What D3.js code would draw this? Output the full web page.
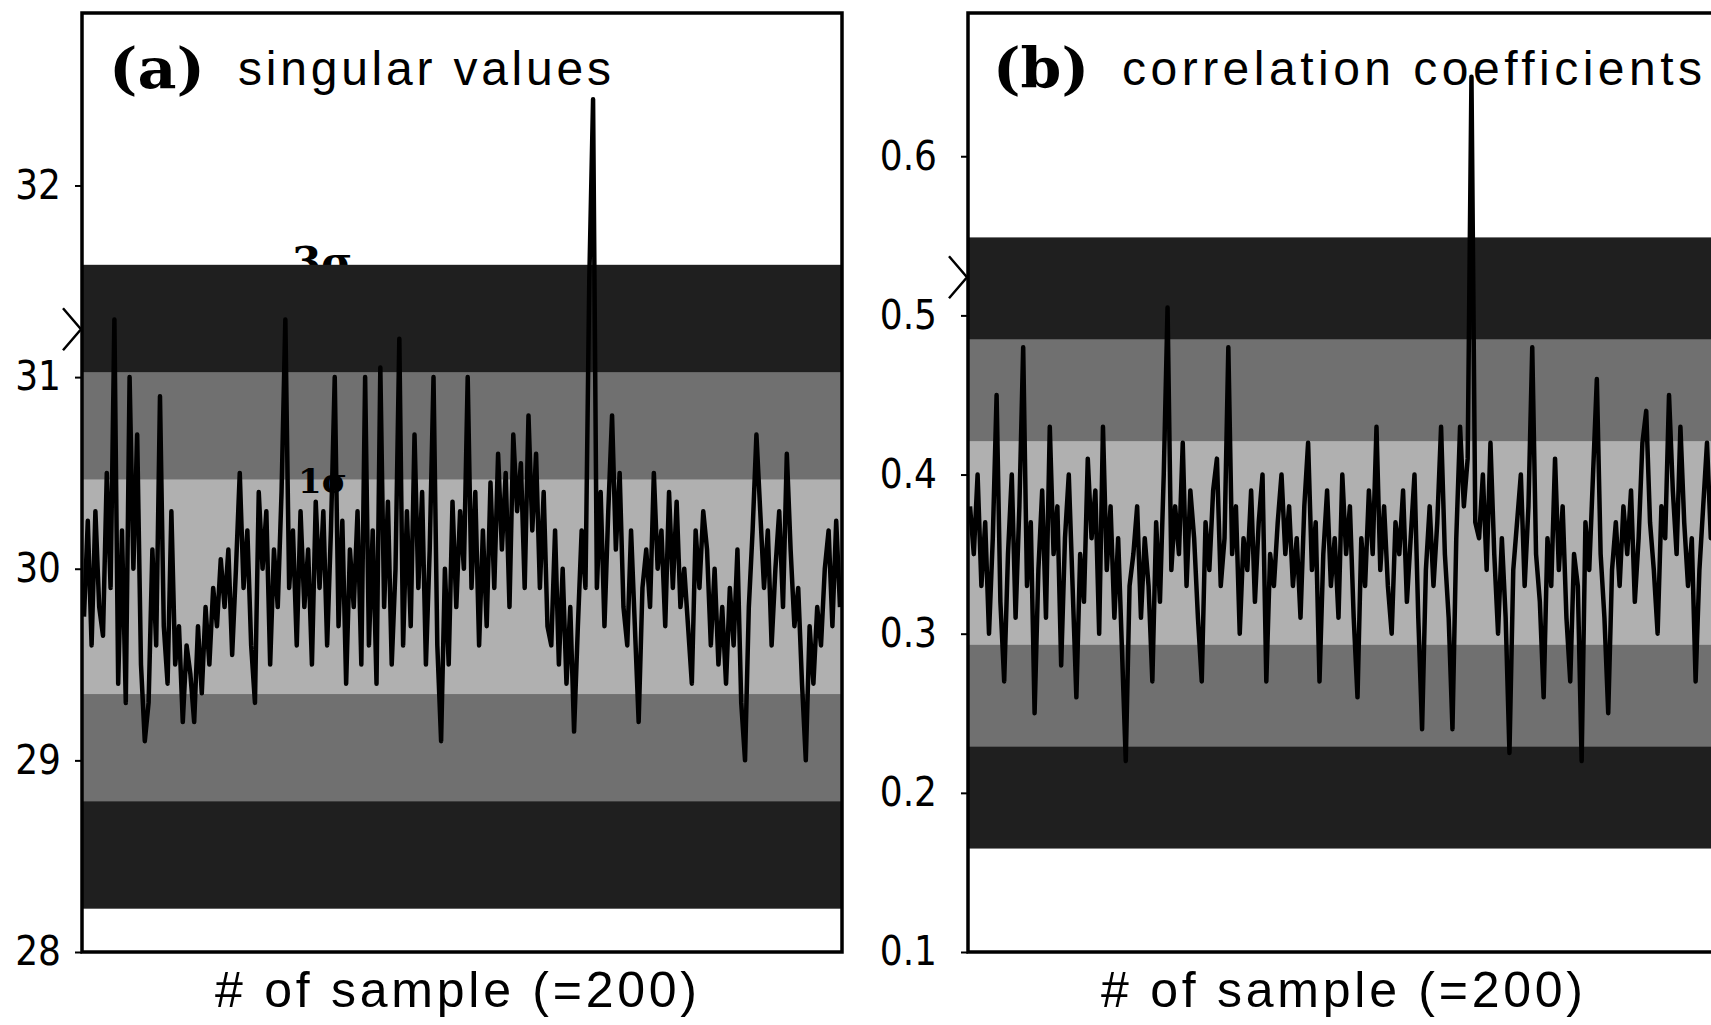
<!DOCTYPE html>
<html>
<head>
<meta charset="utf-8">
<script src="https://cdn.jsdelivr.net/npm/d3@7"></script>
<style>
  body { margin: 0; background: #fff; }
  svg { display: block; }
  .tick text { font-family: "Liberation Sans Narrow", "DejaVu Sans Condensed", "Liberation Sans", sans-serif; font-size: 40px; fill: #000; }
</style>
</head>
<body>
<svg id="chart"></svg>
<script>
// Singular values, 200 samples
const singularValues = [
    29.75, 30.25, 29.6, 30.3, 29.8, 29.65, 30.5, 29.9, 31.3, 29.4,
    30.2, 29.3, 31.0, 30.0, 30.7, 29.5, 29.1, 29.3, 30.1, 29.6,
    30.9, 29.7, 29.4, 30.3, 29.5, 29.7, 29.2, 29.6, 29.45, 29.2,
    29.7, 29.35, 29.8, 29.5, 29.9, 29.7, 30.05, 29.8, 30.1, 29.55,
    30.0, 30.5, 29.9, 30.2, 29.6, 29.3, 30.4, 30.0, 30.3, 29.5,
    30.1, 29.8, 30.4, 31.3, 29.9, 30.2, 29.6, 30.3, 29.8, 30.1,
    29.5, 30.35, 29.9, 30.3, 29.6, 30.2, 31.0, 29.7, 30.25, 29.4,
    30.1, 29.8, 30.3, 29.5, 31.0, 29.6, 30.2, 29.4, 31.05, 29.8,
    30.35, 29.5, 30.0, 31.2, 29.6, 30.3, 29.7, 30.7, 29.9, 30.4,
    29.5, 30.1, 31.0, 29.6, 29.1, 30.0, 29.5, 30.35, 29.8, 30.3,
    30.0, 31.0, 29.9, 30.4, 29.6, 30.2, 29.7, 30.45, 29.9, 30.6,
    30.1, 30.5, 29.8, 30.7, 30.3, 30.55, 29.9, 30.8, 30.2, 30.6,
    29.9, 30.4, 29.7, 29.6, 30.2, 29.5, 30.0, 29.4, 29.8, 29.15,
    29.7, 30.2, 29.9, 31.5, 32.45, 29.9, 30.4, 29.7, 30.3, 30.8,
    30.1, 30.5, 29.8, 29.6, 30.2, 29.7, 29.2, 29.9, 30.1, 29.8,
    30.5, 30.0, 30.2, 29.7, 30.4, 29.9, 30.35, 29.8, 30.0, 29.7,
    29.4, 30.2, 29.9, 30.3, 30.1, 29.6, 30.0, 29.5, 29.8, 29.4,
    29.9, 29.6, 30.1, 29.3, 29.0, 29.8, 30.2, 30.7, 30.3, 29.9,
    30.2, 29.6, 30.0, 30.3, 29.8, 30.6, 30.1, 29.7, 29.9, 29.4,
    29.0, 29.7, 29.4, 29.8, 29.6, 30.0, 30.2, 29.7, 30.25, 29.8
];

// Correlation coefficients, 200 samples
const correlationValues = [
    0.38, 0.35, 0.40, 0.33, 0.37, 0.30, 0.36, 0.45, 0.32, 0.27,
    0.35, 0.40, 0.31, 0.38, 0.48, 0.33, 0.37, 0.25, 0.34, 0.39,
    0.31, 0.43, 0.35, 0.38, 0.28, 0.36, 0.40, 0.33, 0.26, 0.35,
    0.32, 0.41, 0.36, 0.39, 0.30, 0.43, 0.34, 0.38, 0.31, 0.36,
    0.29, 0.22, 0.33, 0.35, 0.38, 0.31, 0.36, 0.33, 0.27, 0.37,
    0.32, 0.40, 0.505, 0.34, 0.38, 0.35, 0.42, 0.33, 0.39, 0.36,
    0.31, 0.27, 0.37, 0.34, 0.39, 0.41, 0.33, 0.36, 0.48, 0.35,
    0.38, 0.30, 0.36, 0.34, 0.39, 0.32, 0.37, 0.40, 0.27, 0.35,
    0.33, 0.37, 0.40, 0.35, 0.38, 0.33, 0.36, 0.31, 0.38, 0.42,
    0.34, 0.37, 0.27, 0.35, 0.39, 0.33, 0.36, 0.31, 0.40, 0.35,
    0.38, 0.31, 0.26, 0.36, 0.33, 0.39, 0.35, 0.43, 0.34, 0.38,
    0.33, 0.30, 0.37, 0.35, 0.39, 0.32, 0.36, 0.40, 0.31, 0.24,
    0.34, 0.38, 0.33, 0.37, 0.43, 0.35, 0.31, 0.24, 0.36, 0.43,
    0.38, 0.41, 0.65, 0.37, 0.36, 0.40, 0.34, 0.42, 0.35, 0.30,
    0.36, 0.31, 0.225, 0.34, 0.37, 0.40, 0.33, 0.38, 0.48, 0.35,
    0.32, 0.26, 0.36, 0.33, 0.41, 0.34, 0.38, 0.31, 0.27, 0.35,
    0.33, 0.22, 0.37, 0.34, 0.40, 0.46, 0.35, 0.31, 0.25, 0.34,
    0.37, 0.33, 0.38, 0.35, 0.39, 0.32, 0.36, 0.42, 0.44, 0.37,
    0.34, 0.30, 0.38, 0.36, 0.45, 0.39, 0.35, 0.43, 0.37, 0.33,
    0.36, 0.27, 0.34, 0.38, 0.42, 0.36, 0.40, 0.33, 0.38, 0.35
];

const singularTicks = [28, 29, 30, 31, 32];
const correlationTicks = [0.1, 0.2, 0.3, 0.4, 0.5, 0.6];

// mean and sigma of each distribution (bands at 1, 2, 3 sigma)
const singularMean = 29.906;
const singularSigma = 0.56;
const correlationMean = 0.357;
const correlationSigma = 0.064;

// reference value marked with a chevron on the left axis
const singularMarker = 31.25;
const correlationMarker = 0.524;

const bandSigmas = [3, 2, 1];
const bandFills = ['#1f1f1f', '#707070', '#b0b0b0'];

const W = 1711, H = 1025;
const svg = d3.select('#chart').attr('width', W).attr('height', H);
svg.append('rect').attr('width', W).attr('height', H).attr('fill', '#fff');

const PANEL = { width: 760, top: 13, bottom: 952 };

function drawPanel(cfg) {
    const x = d3.scaleLinear().domain([0, cfg.values.length - 1]).range([cfg.left + 2, cfg.left + PANEL.width - 2]);
    const y = d3.scaleLinear().domain(cfg.domain).range([PANEL.bottom, PANEL.top]);

    const g = svg.append('g');
    const clipId = 'clip-' + cfg.id;
    svg.append('clipPath').attr('id', clipId)
        .append('rect')
        .attr('x', cfg.left).attr('y', PANEL.top)
        .attr('width', PANEL.width).attr('height', PANEL.bottom - PANEL.top);

    // sigma label partly hidden under the outer band
    if (cfg.topLabel) {
        g.append('text')
            .attr('x', cfg.topLabel.x).attr('y', y(cfg.mean + 3 * cfg.sigma) + 12)
            .attr('font-family', '"DejaVu Serif", serif')
            .attr('font-weight', 'bold')
            .attr('font-size', 42)
            .text(cfg.topLabel.text);
    }

    // sigma bands
    g.append('g').attr('clip-path', `url(#${clipId})`)
        .selectAll('rect')
        .data(bandSigmas)
        .enter()
        .append('rect')
        .attr('x', cfg.left)
        .attr('width', PANEL.width)
        .attr('y', k => y(cfg.mean + k * cfg.sigma))
        .attr('height', k => y(cfg.mean - k * cfg.sigma) - y(cfg.mean + k * cfg.sigma))
        .attr('fill', (k, i) => bandFills[i]);

    // the series
    const line = d3.line().x((d, i) => x(i)).y(d => y(d));
    g.append('path')
        .datum(cfg.values)
        .attr('clip-path', `url(#${clipId})`)
        .attr('fill', 'none')
        .attr('stroke', '#000')
        .attr('stroke-width', 4.5)
        .attr('stroke-linejoin', 'round')
        .attr('d', line);

    if (cfg.innerLabel) {
        g.append('text')
            .attr('x', cfg.innerLabel.x).attr('y', y(cfg.mean + cfg.sigma) + 14)
            .attr('font-family', '"DejaVu Serif", serif')
            .attr('font-weight', 'bold')
            .attr('font-size', 34)
            .text(cfg.innerLabel.text);
    }

    // frame
    g.append('rect')
        .attr('x', cfg.left).attr('y', PANEL.top)
        .attr('width', PANEL.width).attr('height', PANEL.bottom - PANEL.top)
        .attr('fill', 'none').attr('stroke', '#000').attr('stroke-width', 3.5);

    // y axis
    const yAxis = d3.axisLeft(y)
        .tickValues(cfg.ticks)
        .tickSize(7)
        .tickSizeOuter(0)
        .tickPadding(cfg.tickPad)
        .tickFormat(cfg.format);
    const ya = g.append('g').attr('transform', `translate(${cfg.left},0)`).call(yAxis);
    ya.select('.domain').remove();
    ya.selectAll('.tick line').attr('stroke', '#000').attr('stroke-width', 2);

    // chevron marker on the axis
    const my = y(cfg.marker);
    g.append('path')
        .attr('d', `M${cfg.left - 19},${my - 21} L${cfg.left - 1},${my} L${cfg.left - 19},${my + 21}`)
        .attr('fill', 'none').attr('stroke', '#000').attr('stroke-width', 2.5);

    // panel title
    const title = g.append('g');
    title.append('text')
        .attr('x', cfg.left + cfg.titleDx).attr('y', 88)
        .attr('font-family', '"DejaVu Serif", serif')
        .attr('font-weight', 'bold')
        .attr('font-size', 56)
        .attr('textLength', 96)
        .attr('lengthAdjust', 'spacingAndGlyphs')
        .text(cfg.tag);
    title.append('text')
        .attr('x', cfg.left + cfg.titleDx + 129).attr('y', 85)
        .attr('font-family', '"Liberation Sans", Arial, sans-serif')
        .attr('font-size', 48)
        .attr('textLength', cfg.titleLength)
        .attr('lengthAdjust', 'spacing')
        .text(cfg.title);

    // x axis label
    g.append('text')
        .attr('x', cfg.left + PANEL.width / 2 - 6).attr('y', 1007)
        .attr('text-anchor', 'middle')
        .attr('font-family', '"Liberation Sans", Arial, sans-serif')
        .attr('font-size', 50)
        .attr('textLength', 482)
        .attr('lengthAdjust', 'spacing')
        .text('# of sample (=200)');
}

drawPanel({
    id: 'a', left: 82, values: singularValues, domain: [28, 32.9],
    ticks: singularTicks, format: d3.format('d'), tickPad: 14,
    mean: singularMean, sigma: singularSigma, marker: singularMarker,
    tag: '(a)', title: 'singular values', titleDx: 27, titleLength: 373,
    topLabel: { x: 292, text: '3σ' }, innerLabel: { x: 298, text: '1σ' }
});

drawPanel({
    id: 'b', left: 968, values: correlationValues, domain: [0.1, 0.69],
    ticks: correlationTicks, format: d3.format('.1f'), tickPad: 24,
    mean: correlationMean, sigma: correlationSigma, marker: correlationMarker,
    tag: '(b)', title: 'correlation coefficients', titleDx: 25, titleLength: 580
});
</script>
</body>
</html>
